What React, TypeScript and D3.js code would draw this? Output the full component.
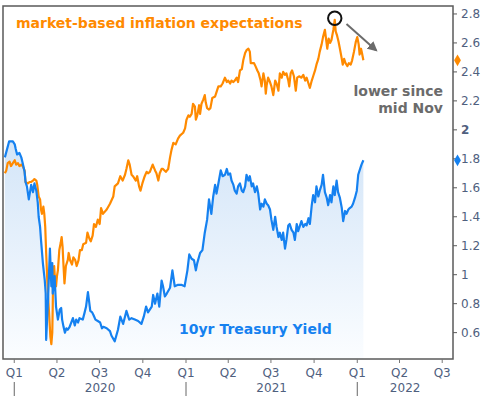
import React from "react";
import * as d3 from "d3";

// 10yr Treasury yield (blue)
const treasuryYield: [string, number][] = [
  ["2019-12-12", 1.81], ["2019-12-21", 1.92], ["2019-12-29", 1.92], ["2020-01-02", 1.9],
  ["2020-01-04", 1.87], ["2020-01-07", 1.83], ["2020-01-12", 1.84], ["2020-01-16", 1.81],
  ["2020-01-19", 1.77], ["2020-01-23", 1.71], ["2020-01-25", 1.64], ["2020-01-28", 1.61],
  ["2020-02-01", 1.52], ["2020-02-06", 1.62], ["2020-02-10", 1.57], ["2020-02-13", 1.63],
  ["2020-02-17", 1.58], ["2020-02-20", 1.5], ["2020-02-22", 1.4], ["2020-02-25", 1.33],
  ["2020-02-27", 1.24], ["2020-03-02", 1.08], ["2020-03-06", 0.96], ["2020-03-08", 0.87],
  ["2020-03-09", 0.55], ["2020-03-13", 0.83], ["2020-03-17", 1.18], ["2020-03-20", 0.92],
  ["2020-03-22", 1.08], ["2020-03-23", 0.87], ["2020-03-27", 0.99], ["2020-03-30", 0.78],
  ["2020-04-03", 0.69], ["2020-04-07", 0.76], ["2020-04-10", 0.77], ["2020-04-12", 0.69],
  ["2020-04-15", 0.64], ["2020-04-18", 0.6], ["2020-04-21", 0.63], ["2020-04-24", 0.62],
  ["2020-04-28", 0.64], ["2020-05-05", 0.7], ["2020-05-09", 0.65], ["2020-05-12", 0.69],
  ["2020-05-16", 0.67], ["2020-05-19", 0.7], ["2020-05-26", 0.69], ["2020-05-30", 0.74],
  ["2020-06-02", 0.78], ["2020-06-06", 0.88], ["2020-06-08", 0.83], ["2020-06-11", 0.75],
  ["2020-06-15", 0.74], ["2020-06-18", 0.72], ["2020-06-22", 0.69], ["2020-06-27", 0.68],
  ["2020-07-02", 0.67], ["2020-07-06", 0.63], ["2020-07-09", 0.64], ["2020-07-16", 0.63],
  ["2020-07-23", 0.61], ["2020-07-26", 0.58], ["2020-08-02", 0.54], ["2020-08-09", 0.62],
  ["2020-08-14", 0.71], ["2020-08-20", 0.66], ["2020-08-27", 0.75], ["2020-09-02", 0.69],
  ["2020-09-07", 0.7], ["2020-09-14", 0.69], ["2020-09-21", 0.68], ["2020-09-28", 0.66],
  ["2020-10-03", 0.71], ["2020-10-08", 0.78], ["2020-10-12", 0.74], ["2020-10-20", 0.78],
  ["2020-10-23", 0.86], ["2020-10-27", 0.8], ["2020-11-01", 0.87], ["2020-11-05", 0.78],
  ["2020-11-10", 0.96], ["2020-11-13", 0.92], ["2020-11-17", 0.85], ["2020-11-21", 0.87],
  ["2020-11-28", 0.91], ["2020-12-03", 1.03], ["2020-12-08", 0.92], ["2020-12-15", 0.93],
  ["2020-12-22", 0.93], ["2020-12-29", 0.92], ["2021-01-04", 1.03], ["2021-01-08", 1.14],
  ["2021-01-13", 1.11], ["2021-01-18", 1.1], ["2021-01-22", 1.03], ["2021-01-25", 1.08],
  ["2021-01-31", 1.15], ["2021-02-05", 1.17], ["2021-02-10", 1.29], ["2021-02-15", 1.38],
  ["2021-02-19", 1.52], ["2021-02-24", 1.42], ["2021-02-28", 1.54], ["2021-03-04", 1.62],
  ["2021-03-07", 1.56], ["2021-03-11", 1.63], ["2021-03-16", 1.72], ["2021-03-20", 1.68],
  ["2021-03-25", 1.69], ["2021-03-29", 1.73], ["2021-04-01", 1.69], ["2021-04-05", 1.7],
  ["2021-04-08", 1.65], ["2021-04-12", 1.62], ["2021-04-15", 1.58], ["2021-04-19", 1.56],
  ["2021-04-22", 1.61], ["2021-04-26", 1.63], ["2021-04-30", 1.58], ["2021-05-03", 1.57],
  ["2021-05-07", 1.61], ["2021-05-10", 1.69], ["2021-05-14", 1.65], ["2021-05-17", 1.68],
  ["2021-05-21", 1.61], ["2021-05-24", 1.63], ["2021-05-28", 1.57], ["2021-06-01", 1.61],
  ["2021-06-04", 1.56], ["2021-06-08", 1.45], ["2021-06-11", 1.49], ["2021-06-15", 1.47],
  ["2021-06-18", 1.52], ["2021-06-22", 1.49], ["2021-06-25", 1.48], ["2021-06-29", 1.45],
  ["2021-07-02", 1.38], ["2021-07-06", 1.31], ["2021-07-10", 1.4], ["2021-07-13", 1.33],
  ["2021-07-17", 1.26], ["2021-07-20", 1.29], ["2021-07-24", 1.24], ["2021-07-27", 1.29],
  ["2021-07-31", 1.18], ["2021-08-03", 1.24], ["2021-08-07", 1.34], ["2021-08-10", 1.35],
  ["2021-08-14", 1.31], ["2021-08-18", 1.29], ["2021-08-21", 1.24], ["2021-08-25", 1.35],
  ["2021-08-28", 1.3], ["2021-09-01", 1.34], ["2021-09-04", 1.37], ["2021-09-08", 1.33],
  ["2021-09-12", 1.35], ["2021-09-15", 1.34], ["2021-09-19", 1.39], ["2021-09-22", 1.35],
  ["2021-09-26", 1.48], ["2021-09-29", 1.55], ["2021-10-03", 1.5], ["2021-10-06", 1.61],
  ["2021-10-10", 1.54], ["2021-10-13", 1.58], ["2021-10-17", 1.62], ["2021-10-20", 1.69],
  ["2021-10-24", 1.57], ["2021-10-28", 1.53], ["2021-10-31", 1.48], ["2021-11-04", 1.55],
  ["2021-11-07", 1.5], ["2021-11-11", 1.61], ["2021-11-14", 1.55], ["2021-11-18", 1.65],
  ["2021-11-21", 1.57], ["2021-11-25", 1.53], ["2021-11-29", 1.46], ["2021-12-02", 1.37],
  ["2021-12-06", 1.44], ["2021-12-09", 1.42], ["2021-12-13", 1.45], ["2021-12-16", 1.46],
  ["2021-12-20", 1.47], ["2021-12-23", 1.49], ["2021-12-27", 1.53], ["2021-12-31", 1.58],
  ["2022-01-03", 1.69], ["2022-01-07", 1.73], ["2022-01-10", 1.76], ["2022-01-14", 1.79],
];

// market-based inflation expectations (orange)
const inflationExp: [string, number][] = [
  ["2019-12-12", 1.7], ["2019-12-15", 1.72], ["2019-12-18", 1.77], ["2019-12-22", 1.78],
  ["2019-12-25", 1.75], ["2019-12-29", 1.77], ["2020-01-02", 1.79], ["2020-01-05", 1.76],
  ["2020-01-09", 1.77], ["2020-01-12", 1.75], ["2020-01-16", 1.76], ["2020-01-19", 1.75],
  ["2020-01-23", 1.72], ["2020-01-25", 1.64], ["2020-01-30", 1.63], ["2020-02-03", 1.64],
  ["2020-02-06", 1.64], ["2020-02-10", 1.65], ["2020-02-13", 1.66], ["2020-02-17", 1.65],
  ["2020-02-19", 1.62], ["2020-02-22", 1.54], ["2020-02-25", 1.52], ["2020-02-27", 1.45],
  ["2020-02-29", 1.42], ["2020-03-03", 1.47], ["2020-03-05", 1.42], ["2020-03-07", 1.33],
  ["2020-03-09", 1.15], ["2020-03-11", 0.99], ["2020-03-13", 0.85], ["2020-03-16", 0.69],
  ["2020-03-18", 0.57], ["2020-03-20", 0.52], ["2020-03-22", 0.6], ["2020-03-23", 0.78],
  ["2020-03-24", 1.03], ["2020-03-26", 1.06], ["2020-03-28", 0.96], ["2020-03-30", 0.92],
  ["2020-04-01", 0.99], ["2020-04-03", 1.03], ["2020-04-06", 1.17], ["2020-04-09", 1.22],
  ["2020-04-11", 1.26], ["2020-04-13", 1.19], ["2020-04-15", 1.06], ["2020-04-17", 0.94],
  ["2020-04-20", 1.06], ["2020-04-24", 1.1], ["2020-04-26", 1.15], ["2020-04-29", 1.1],
  ["2020-05-03", 1.07], ["2020-05-06", 1.12], ["2020-05-10", 1.1], ["2020-05-13", 1.06],
  ["2020-05-17", 1.1], ["2020-05-20", 1.17], ["2020-05-24", 1.17], ["2020-05-27", 1.21],
  ["2020-06-02", 1.22], ["2020-06-05", 1.29], ["2020-06-09", 1.25], ["2020-06-12", 1.23],
  ["2020-06-16", 1.27], ["2020-06-19", 1.35], ["2020-06-23", 1.33], ["2020-06-27", 1.38],
  ["2020-07-01", 1.35], ["2020-07-04", 1.46], ["2020-07-08", 1.42], ["2020-07-16", 1.45],
  ["2020-07-23", 1.49], ["2020-07-30", 1.54], ["2020-08-02", 1.61], ["2020-08-09", 1.63],
  ["2020-08-14", 1.68], ["2020-08-19", 1.65], ["2020-08-24", 1.69], ["2020-08-27", 1.73],
  ["2020-08-31", 1.79], ["2020-09-03", 1.76], ["2020-09-07", 1.69], ["2020-09-10", 1.68],
  ["2020-09-16", 1.65], ["2020-09-19", 1.68], ["2020-09-23", 1.61], ["2020-09-26", 1.58],
  ["2020-09-30", 1.63], ["2020-10-05", 1.68], ["2020-10-09", 1.71], ["2020-10-12", 1.7],
  ["2020-10-16", 1.71], ["2020-10-22", 1.76], ["2020-10-27", 1.72], ["2020-10-30", 1.7],
  ["2020-11-03", 1.65], ["2020-11-06", 1.7], ["2020-11-10", 1.73], ["2020-11-13", 1.73],
  ["2020-11-19", 1.71], ["2020-11-24", 1.73], ["2020-11-28", 1.81], ["2020-12-01", 1.86],
  ["2020-12-05", 1.91], ["2020-12-10", 1.9], ["2020-12-15", 1.94], ["2020-12-19", 1.96],
  ["2020-12-26", 1.98], ["2020-12-30", 2.01], ["2021-01-02", 2.07], ["2021-01-06", 2.1],
  ["2021-01-09", 2.09], ["2021-01-13", 2.11], ["2021-01-16", 2.18], ["2021-01-20", 2.16],
  ["2021-01-22", 2.07], ["2021-01-25", 2.1], ["2021-01-29", 2.17], ["2021-01-31", 2.11],
  ["2021-02-03", 2.18], ["2021-02-07", 2.21], ["2021-02-10", 2.24], ["2021-02-12", 2.19],
  ["2021-02-15", 2.15], ["2021-02-19", 2.14], ["2021-02-22", 2.15], ["2021-02-26", 2.22],
  ["2021-03-04", 2.23], ["2021-03-07", 2.26], ["2021-03-11", 2.3], ["2021-03-16", 2.3],
  ["2021-03-20", 2.32], ["2021-03-25", 2.36], ["2021-03-29", 2.33], ["2021-04-01", 2.34],
  ["2021-04-05", 2.32], ["2021-04-08", 2.34], ["2021-04-12", 2.33], ["2021-04-15", 2.34],
  ["2021-04-19", 2.36], ["2021-04-22", 2.33], ["2021-04-26", 2.41], ["2021-04-30", 2.42],
  ["2021-05-03", 2.48], ["2021-05-07", 2.53], ["2021-05-10", 2.55], ["2021-05-14", 2.56],
  ["2021-05-17", 2.54], ["2021-05-19", 2.46], ["2021-05-23", 2.46], ["2021-05-26", 2.46],
  ["2021-05-29", 2.44], ["2021-06-02", 2.41], ["2021-06-05", 2.39], ["2021-06-09", 2.34],
  ["2021-06-11", 2.3], ["2021-06-15", 2.39], ["2021-06-18", 2.34], ["2021-06-20", 2.25],
  ["2021-06-22", 2.31], ["2021-06-25", 2.36], ["2021-06-29", 2.33], ["2021-07-02", 2.3],
  ["2021-07-06", 2.24], ["2021-07-10", 2.34], ["2021-07-13", 2.32], ["2021-07-17", 2.27],
  ["2021-07-20", 2.39], ["2021-07-24", 2.36], ["2021-07-27", 2.4], ["2021-07-31", 2.38],
  ["2021-08-03", 2.39], ["2021-08-07", 2.34], ["2021-08-09", 2.3], ["2021-08-12", 2.39],
  ["2021-08-15", 2.41], ["2021-08-19", 2.37], ["2021-08-23", 2.27], ["2021-08-26", 2.36],
  ["2021-08-30", 2.37], ["2021-09-04", 2.36], ["2021-09-08", 2.38], ["2021-09-12", 2.34],
  ["2021-09-15", 2.36], ["2021-09-19", 2.32], ["2021-09-22", 2.29], ["2021-09-26", 2.34],
  ["2021-09-29", 2.37], ["2021-10-03", 2.41], ["2021-10-06", 2.45], ["2021-10-10", 2.49],
  ["2021-10-13", 2.54], ["2021-10-17", 2.59], ["2021-10-20", 2.64], ["2021-10-24", 2.69],
  ["2021-10-26", 2.64], ["2021-10-29", 2.56], ["2021-11-01", 2.63], ["2021-11-04", 2.6],
  ["2021-11-07", 2.62], ["2021-11-11", 2.69], ["2021-11-14", 2.76], ["2021-11-16", 2.68],
  ["2021-11-19", 2.65], ["2021-11-22", 2.61], ["2021-11-25", 2.56], ["2021-11-29", 2.49],
  ["2021-12-01", 2.45], ["2021-12-04", 2.49], ["2021-12-07", 2.46], ["2021-12-11", 2.44],
  ["2021-12-14", 2.46], ["2021-12-18", 2.45], ["2021-12-21", 2.48], ["2021-12-25", 2.54],
  ["2021-12-29", 2.61], ["2022-01-01", 2.64], ["2022-01-04", 2.59], ["2022-01-06", 2.52],
  ["2022-01-09", 2.56], ["2022-01-11", 2.53], ["2022-01-14", 2.48],
];

const rightTicks = [0.6, 0.8, 1, 1.2, 1.4, 1.6, 1.8, 2, 2.2, 2.4, 2.6, 2.8];
const quarterTicks = [
  "2020-01-01", "2020-04-01", "2020-07-01", "2020-10-01",
  "2021-01-01", "2021-04-01", "2021-07-01", "2021-10-01",
  "2022-01-01", "2022-04-01", "2022-07-01",
];
const yearLabels = ["2020", "2021", "2022"];

const peak: [string, number] = ["2021-11-14", 2.77];
const arrowFrom: [string, number] = ["2021-12-09", 2.73];
const arrowTo: [string, number] = ["2022-02-10", 2.55];

const ORANGE = "#ff8a00";
const BLUE = "#1581f0";
const AXIS_TEXT = "#4f607e";
const FONT = "'DejaVu Sans', Verdana, sans-serif";

const parse = d3.timeParse("%Y-%m-%d");

export default function App() {
  const width = 486;
  const height = 396;
  const plot = { left: 3, right: 453, top: 6, bottom: 359 };

  const x = d3
    .scaleTime()
    .domain([parse("2019-12-08")!, parse("2022-07-24")!])
    .range([plot.left, plot.right]);
  const y = d3.scaleLinear().domain([0.418, 2.855]).range([plot.bottom, plot.top]);

  const blue = treasuryYield.map(([d, v]) => ({ date: parse(d)!, v }));
  const orange = inflationExp.map(([d, v]) => ({ date: parse(d)!, v }));

  const line = d3
    .line<{ date: Date; v: number }>()
    .x((d) => x(d.date))
    .y((d) => y(d.v));
  const area = d3
    .area<{ date: Date; v: number }>()
    .x((d) => x(d.date))
    .y0(plot.bottom)
    .y1((d) => y(d.v));

  const qTicks = quarterTicks.map((s) => parse(s)!);
  const yearStarts = ["2020-01-01", "2021-01-01", "2022-01-01"].map((s) => x(parse(s)!));
  const yearCenters = [
    (yearStarts[0] + yearStarts[1]) / 2,
    (yearStarts[1] + yearStarts[2]) / 2,
    (yearStarts[2] + plot.right) / 2,
  ];

  const lastBlue = blue[blue.length - 1];
  const lastOrange = orange[orange.length - 1];
  const diamond = d3.symbol().type(d3.symbolDiamond).size(40)();

  const ax1 = x(parse(arrowFrom[0])!);
  const ay1 = y(arrowFrom[1]);
  const ax2 = x(parse(arrowTo[0])!);
  const ay2 = y(arrowTo[1]);

  return (
    <svg
      width={width}
      height={height}
      style={{ position: "absolute", left: 0, top: 0, background: "#fff" }}
      fontFamily={FONT}
    >
      <defs>
        <linearGradient id="blueFill" gradientUnits="userSpaceOnUse" x1="0" y1="140" x2="0" y2={plot.bottom}>
          <stop offset="0" stopColor="#d3e5f8" />
          <stop offset="1" stopColor="#fbfdff" />
        </linearGradient>
        <marker id="arrowHead" viewBox="0 0 10 10" refX="8" refY="5" markerWidth="5" markerHeight="5" orient="auto">
          <path d="M0,0 L10,5 L0,10 z" fill="#6b6b6b" />
        </marker>
      </defs>

      <path d={area(blue) ?? ""} fill="url(#blueFill)" />
      <path d={line(orange) ?? ""} fill="none" stroke={ORANGE} strokeWidth={2.2} strokeLinejoin="round" />
      <path d={line(blue) ?? ""} fill="none" stroke={BLUE} strokeWidth={2.2} strokeLinejoin="round" />

      {/* frame */}
      <rect
        x={plot.left}
        y={plot.top}
        width={plot.right - plot.left}
        height={plot.bottom - plot.top}
        fill="none"
        stroke="#5a5a5a"
        strokeWidth={1.5}
      />

      {/* right axis */}
      {rightTicks.map((t) => (
        <g key={t}>
          <line x1={plot.right} x2={plot.right + 4} y1={y(t)} y2={y(t)} stroke="#5a5a5a" />
          <text
            x={plot.right + 8}
            y={y(t)}
            dy="0.36em"
            fontSize={12}
            fill={AXIS_TEXT}
            fontWeight={t === 2 ? "bold" : "normal"}
          >
            {t}
          </text>
        </g>
      ))}

      {/* bottom axis */}
      {qTicks.map((d, i) => (
        <g key={i}>
          <line x1={x(d)} x2={x(d)} y1={plot.bottom} y2={plot.bottom + 4} stroke="#777" />
          <text x={x(d)} y={377} textAnchor="middle" fontSize={12} fill={AXIS_TEXT}>
            {"Q" + (Math.floor(d.getMonth() / 3) + 1)}
          </text>
        </g>
      ))}
      {yearStarts.map((xs, i) => (
        <line key={i} x1={xs} x2={xs} y1={382} y2={396} stroke="#666" />
      ))}
      {yearLabels.map((lbl, i) => (
        <text key={lbl} x={yearCenters[i]} y={392} textAnchor="middle" fontSize={12} fill={AXIS_TEXT}>
          {lbl}
        </text>
      ))}

      {/* last-value markers */}
      <path d={diamond ?? ""} transform={`translate(${plot.right + 4.5},${y(lastOrange.v)})`} fill={ORANGE} />
      <path d={diamond ?? ""} transform={`translate(${plot.right + 4.5},${y(lastBlue.v)})`} fill={BLUE} />

      {/* annotations */}
      <text x={16} y={28} fontSize={14} fontWeight="bold" fill={ORANGE}>
        market-based inflation expectations
      </text>
      <text x={179} y={334} fontSize={14} fontWeight="bold" fill={BLUE}>
        10yr Treasury Yield
      </text>
      <text textAnchor="end" fontSize={14} fontWeight="bold" fill="#6b6b6b">
        <tspan x={443} y={96}>lower since</tspan>
        <tspan x={443} y={113}>mid Nov</tspan>
      </text>
      <circle cx={x(parse(peak[0])!)} cy={y(peak[1])} r={6.7} fill="none" stroke="#111" strokeWidth={2} />
      <line x1={ax1} y1={ay1} x2={ax2} y2={ay2} stroke="#6b6b6b" strokeWidth={2} markerEnd="url(#arrowHead)" />
    </svg>
  );
}
